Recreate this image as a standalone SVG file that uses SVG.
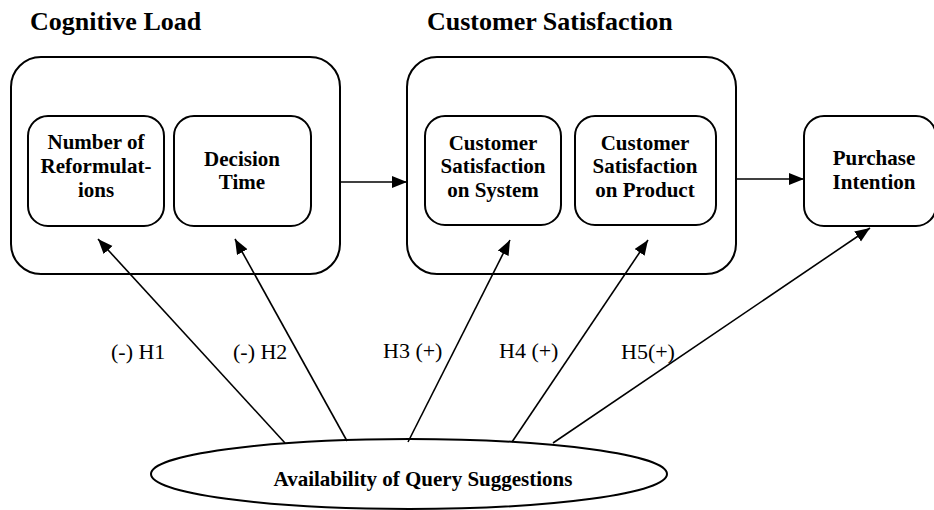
<svg xmlns="http://www.w3.org/2000/svg" width="934" height="510" viewBox="0 0 934 510">
<style>
.box{fill:#fff;stroke:#000;stroke-width:2}
text{font-family:'Liberation Serif','Times New Roman',Times,'DejaVu Serif',serif;fill:#000}
.t{font-weight:bold;font-size:21px;text-anchor:middle}
.title{font-weight:bold;font-size:26px}
.lbl{font-size:22px}
.c{stroke:#000;stroke-width:1.6;fill:none;marker-end:url(#ah)}
</style>
<defs>
<marker id="ah" markerUnits="userSpaceOnUse" markerWidth="16" markerHeight="13" refX="15" refY="6" orient="auto">
<path d="M0,0 L15,6 L0,12 z" fill="#000"/>
</marker>
</defs>
<rect width="934" height="510" fill="#fff"/>
<text class="title" x="30" y="30">Cognitive Load</text>
<text class="title" x="427" y="30">Customer Satisfaction</text>
<g id="cognitive-load">
<rect class="box" x="11" y="57" width="329" height="217" rx="30"/>
</g>
<g id="customer-satisfaction">
<rect class="box" x="407" y="57" width="329" height="217" rx="30"/>
</g>
<g id="reformulations">
<rect class="box" x="28" y="116" width="136" height="110" rx="20"/>
<text class="t" x="96" y="149">Number of</text>
<text class="t" x="96" y="173">Reformulat-</text>
<text class="t" x="96" y="197">ions</text>
</g>
<g id="decision-time">
<rect class="box" x="174" y="116" width="137" height="110" rx="20"/>
<text class="t" x="242" y="166">Decision</text>
<text class="t" x="242" y="189">Time</text>
</g>
<g id="sat-system">
<rect class="box" x="425" y="116" width="136" height="109" rx="20"/>
<text class="t" x="493" y="150">Customer</text>
<text class="t" x="493" y="173">Satisfaction</text>
<text class="t" x="493" y="197">on System</text>
</g>
<g id="sat-product">
<rect class="box" x="575" y="116" width="141" height="109" rx="20"/>
<text class="t" x="645" y="150">Customer</text>
<text class="t" x="645" y="173">Satisfaction</text>
<text class="t" x="645" y="197">on Product</text>
</g>
<g id="purchase-intention">
<rect class="box" x="804" y="116" width="132" height="110" rx="20"/>
<text class="t" x="874" y="165">Purchase</text>
<text class="t" x="874" y="189">Intention</text>
</g>
<g id="query-suggestions">
<ellipse class="box" cx="409" cy="474" rx="258" ry="35"/>
<text class="t" x="423" y="486">Availability of Query Suggestions</text>
</g>
<g id="connectors">
<line class="c" x1="340" y1="182" x2="407" y2="182"/>
<line class="c" x1="736" y1="179" x2="804" y2="179"/>
<line class="c" x1="285" y1="443" x2="98" y2="239"/>
<line class="c" x1="347" y1="441" x2="235" y2="239"/>
<line class="c" x1="408" y1="442" x2="510" y2="240"/>
<line class="c" x1="512" y1="442" x2="648" y2="240"/>
<line class="c" x1="553" y1="443" x2="870" y2="228"/>
<text class="lbl" x="111" y="359">(-) H1</text>
<text class="lbl" x="233" y="359">(-) H2</text>
<text class="lbl" x="383" y="358">H3 (+)</text>
<text class="lbl" x="499" y="358">H4 (+)</text>
<text class="lbl" x="621" y="359">H5(+)</text>
</g>
</svg>
